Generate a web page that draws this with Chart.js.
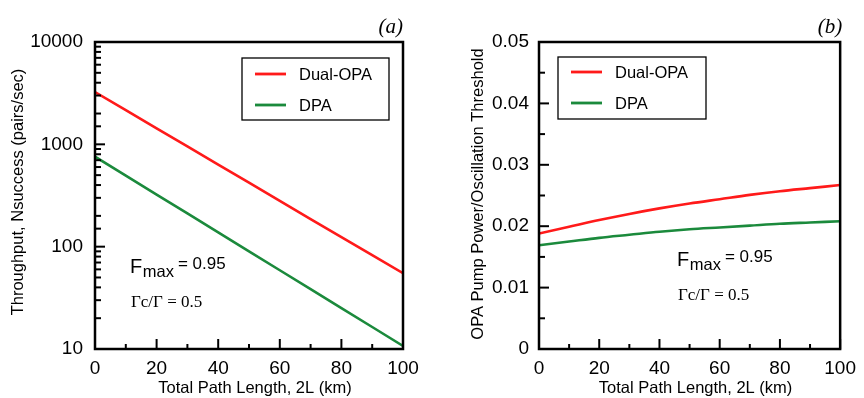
<!DOCTYPE html>
<html>
<head>
<meta charset="utf-8">
<script src="https://cdn.jsdelivr.net/npm/chart.js@4.4.1/dist/chart.umd.min.js"></script>
<style>
  html, body { margin: 0; padding: 0; background: #fff; }
  #wrap { position: relative; width: 864px; height: 398px; }
  canvas { position: absolute; top: 0; }
</style>
</head>
<body>
<div id="wrap">
  <canvas id="ca" width="432" height="398" style="left:0"></canvas>
  <canvas id="cb" width="432" height="398" style="left:432px"></canvas>
</div>
<script>
/* ===== data ===== */
const pathKm = [0, 10, 20, 30, 40, 50, 60, 70, 80, 90, 100];

// (a) throughput, pairs/sec
const throughputDual = [3240, 2160, 1430, 955, 635, 422, 280, 186, 124, 82.5, 55];
const throughputDpa  = [757, 494, 323, 211, 138, 90, 58.8, 38.4, 25.1, 16.4, 10.7];

// (b) pump power / oscillation threshold
const pumpDual = [0.0188, 0.0199, 0.0210, 0.0220, 0.0229, 0.0237, 0.0244, 0.0251, 0.0257, 0.0262, 0.0267];
const pumpDpa  = [0.0169, 0.0175, 0.0181, 0.0186, 0.0191, 0.0195, 0.0198, 0.0201, 0.0204, 0.0206, 0.0208];

const seriesNames  = ["Dual-OPA", "DPA"];
const seriesColors = ["#ff1a1a", "#1b8a3c"];

// tick labels
const xTickLabels    = [0, 20, 40, 60, 80, 100];
const logTickLabels  = [10, 100, 1000, 10000];
const pumpTickLabels = [0, 0.01, 0.02, 0.03, 0.04, 0.05];

const SANS = "'Liberation Sans', Arial, Helvetica, sans-serif";
const SERIF = "'Liberation Serif', 'Times New Roman', serif";

const isLabel = (list, v) => list.some(l => Math.abs(l - v) < 1e-9 * Math.max(1, Math.abs(l)));

/* ===== plugin: inside ticks, frame, legend box, notes ===== */
const panelPlugin = {
  id: "panel",
  afterDatasetsDraw(chart, args, o) {
    const ctx = chart.ctx;
    const a = chart.chartArea;
    const xs = chart.scales.x, ys = chart.scales.y;
    ctx.save();
    ctx.strokeStyle = "#000";
    ctx.lineWidth = 2;
    ctx.lineCap = "butt";

    // inside ticks on bottom axis
    xs.ticks.forEach(t => {
      const px = xs.getPixelForValue(t.value);
      const len = isLabel(xTickLabels, t.value) ? 10 : 5;
      ctx.beginPath(); ctx.moveTo(px, a.bottom); ctx.lineTo(px, a.bottom - len); ctx.stroke();
    });
    // inside ticks on left axis
    ys.ticks.forEach(t => {
      const py = ys.getPixelForValue(t.value);
      const len = isLabel(o.yLabels, t.value) ? 10 : 6;
      ctx.beginPath(); ctx.moveTo(a.left, py); ctx.lineTo(a.left + len, py); ctx.stroke();
    });

    // frame
    ctx.lineWidth = 2.5;
    ctx.strokeRect(a.left, a.top, a.right - a.left, a.bottom - a.top);

    // legend box
    const L = o.legend;
    ctx.lineWidth = 1.3;
    ctx.strokeRect(a.left + L.x, a.top + L.y, L.w, L.h);
    chart.data.datasets.forEach((ds, i) => {
      const y = a.top + L.y + L.row0 + i * L.gap;
      ctx.strokeStyle = ds.borderColor;
      ctx.lineWidth = 2.8;
      ctx.beginPath(); ctx.moveTo(a.left + L.x + 13, y); ctx.lineTo(a.left + L.x + 44, y); ctx.stroke();
      ctx.fillStyle = "#000";
      ctx.font = "16.5px " + SANS;
      ctx.textBaseline = "middle";
      ctx.textAlign = "left";
      ctx.fillText(ds.label, a.left + L.x + 57, y + 1);
    });

    // F_max note
    ctx.fillStyle = "#000";
    ctx.textBaseline = "alphabetic";
    ctx.textAlign = "left";
    let x = o.note.x;
    ctx.font = "20px " + SANS;
    ctx.fillText("F", x, o.note.y + 4);
    x += ctx.measureText("F").width + 0.5;
    ctx.font = "16.5px " + SANS;
    ctx.fillText("max", x, o.note.y + 8);
    x += ctx.measureText("max").width + 4;
    ctx.font = "17px " + SANS;
    ctx.fillText("= 0.95", x, o.note.y);

    ctx.font = "17px " + SERIF;
    ctx.fillText("\u0393c/\u0393 = 0.5", o.note.x + 1, o.note.gy);

    // panel letter
    ctx.font = "italic 21px " + SERIF;
    ctx.textAlign = "right";
    ctx.fillText(o.letter, a.right + o.letterDx, 33);

    // axis titles
    ctx.font = "16.5px " + SANS;
    ctx.textAlign = "center";
    ctx.fillText("Total Path Length, 2L (km)", (a.left + a.right) / 2 + 6, 393);
    ctx.save();
    ctx.translate(o.yTitleX, o.yTitleY);
    ctx.rotate(-Math.PI / 2);
    ctx.textBaseline = "middle";
    ctx.fillText(o.yTitle, 0, 0);
    ctx.restore();

    ctx.restore();
  }
};

function makeChart(id, cfg) {
  return new Chart(document.getElementById(id), {
    type: "line",
    data: {
      labels: pathKm,
      datasets: cfg.series.map((s, i) => ({
        label: seriesNames[i],
        data: pathKm.map((k, j) => ({ x: k, y: s[j] })),
        borderColor: seriesColors[i],
        borderWidth: 2.6,
        pointRadius: 0,
        tension: 0,
        cubicInterpolationMode: cfg.smooth ? "monotone" : "default",
        fill: false,
      })),
    },
    options: {
      responsive: false,
      animation: false,
      devicePixelRatio: 1,
      layout: { padding: { left: 0, top: 42, right: cfg.right, bottom: 0 } },
      plugins: {
        legend: { display: false },
        tooltip: { enabled: false },
        panel: cfg.panel,
      },
      scales: {
        x: {
          type: "linear", min: 0, max: 100,
          grid: { display: false, drawTicks: false },
          border: { display: false },
          ticks: {
            stepSize: 10, autoSkip: false, maxRotation: 0, padding: 8,
            color: "#000", font: { family: SANS, size: 19 },
            callback: v => isLabel(xTickLabels, v) ? String(v) : "",
          },
          afterFit: s => { s.height = 49; },
        },
        y: cfg.y,
      },
    },
    plugins: [panelPlugin],
  });
}

makeChart("ca", {
  series: [throughputDual, throughputDpa],
  right: 29,
  smooth: false,
  y: {
    type: "logarithmic", min: 10, max: 10000,
    grid: { display: false, drawTicks: false },
    border: { display: false },
    ticks: {
      autoSkip: false, padding: 12,
      color: "#000", font: { family: SANS, size: 19 },
      callback: v => isLabel(logTickLabels, v) ? String(v) : "",
    },
    afterFit: s => { s.width = 95; },
  },
  panel: {
    yLabels: logTickLabels,
    legend: { x: 147, y: 16, w: 147, h: 62, row0: 16, gap: 31 },
    note: { x: 130, y: 269, gy: 307 },
    letter: "(a)", letterDx: 0,
    yTitle: "Throughput, Nsuccess (pairs/sec)", yTitleX: 18.5, yTitleY: 192,
  },
});

makeChart("cb", {
  series: [pumpDual, pumpDpa],
  right: 18,
  smooth: true,
  y: {
    type: "linear", min: 0, max: 0.05,
    grid: { display: false, drawTicks: false },
    border: { display: false },
    ticks: {
      stepSize: 0.005, autoSkip: false, padding: 10,
      color: "#000", font: { family: SANS, size: 19 },
      callback: v => isLabel(pumpTickLabels, v) ? String(+v.toFixed(2)) : "",
    },
    afterFit: s => { s.width = 107; },
  },
  panel: {
    yLabels: pumpTickLabels,
    legend: { x: 19, y: 15, w: 148, h: 62, row0: 15, gap: 31 },
    note: { x: 245, y: 262, gy: 300 },
    letter: "(b)", letterDx: 2,
    yTitle: "OPA Pump Power/Oscillation Threshold", yTitleX: 46.5, yTitleY: 194,
  },
});
</script>
</body>
</html>
